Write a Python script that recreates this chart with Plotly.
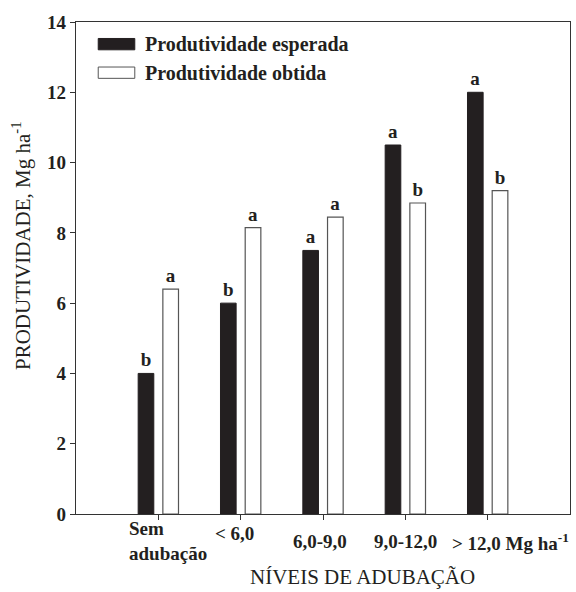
import plotly.graph_objects as go

categories = ["Sem<br>adubação", "< 6,0", "6,0-9,0", "9,0-12,0", "> 12,0 Mg ha<sup>-1</sup>"]
positions = [1, 2, 3, 4, 5]
esperada = [4.0, 6.0, 7.5, 10.5, 12.0]
obtida = [6.4, 8.15, 8.45, 8.85, 9.2]
letras_esperada = ["b", "b", "a", "a", "a"]
letras_obtida = ["a", "a", "a", "b", "b"]
series_names = ["Produtividade esperada", "Produtividade obtida"]
y_ticks = [0, 2, 4, 6, 8, 10, 12, 14]

SERIF = "Liberation Serif"
BLACK = "#231f20"

def b(s):
    return "<b>" + s + "</b>"

fig = go.Figure()
fig.add_trace(go.Bar(
    x=positions, y=esperada, width=0.19, offset=-0.245,
    marker=dict(color=BLACK, line=dict(color=BLACK, width=1)),
    text=[b(t) for t in letras_esperada], textposition="outside", cliponaxis=False,
    textfont=dict(family=SERIF, size=19, color=BLACK),
    name=series_names[0], showlegend=False,
))
fig.add_trace(go.Bar(
    x=positions, y=obtida, width=0.19, offset=0.055,
    marker=dict(color="white", line=dict(color="#555555", width=1.2)),
    text=[b(t) for t in letras_obtida], textposition="outside", cliponaxis=False,
    textfont=dict(family=SERIF, size=19, color=BLACK),
    name=series_names[1], showlegend=False,
))

# x tick labels (placed individually, as in the original)
label_xshift = [10, -6, -3, 0, 23]
label_yshift = [-27, -19, -27, -27, -28]
for p, lab, dx, dy in zip(positions, categories, label_xshift, label_yshift):
    fig.add_annotation(
        x=p, y=0, xref="x", yref="paper", text=b(lab), showarrow=False,
        xanchor="center", yanchor="middle", xshift=dx, yshift=dy,
        align="left",
        font=dict(family=SERIF, size=19, color=BLACK),
    )

# custom legend
legend_rows = [(0.955, BLACK, BLACK), (0.897, "white", "#555555")]
for (yc, fill, edge), name in zip(legend_rows, series_names):
    fig.add_shape(type="rect", xref="paper", yref="paper",
                  x0=0.045, x1=0.119, y0=yc - 0.0115, y1=yc + 0.0115,
                  fillcolor=fill, line=dict(color=edge, width=1))
    fig.add_annotation(x=0.135, y=yc, xref="paper", yref="paper", text=b(name),
                       showarrow=False, xanchor="left", yanchor="middle",
                       font=dict(family=SERIF, size=20, color=BLACK))

# axis titles
fig.add_annotation(x=0.579, y=0, xref="paper", yref="paper", yshift=-63,
                   text="NÍVEIS DE ADUBAÇÃO", showarrow=False,
                   xanchor="center", yanchor="middle",
                   font=dict(family=SERIF, size=21, color=BLACK))
fig.add_annotation(x=0, y=0.5, xref="paper", yref="paper", xshift=-55, yshift=22,
                   text="PRODUTIVIDADE, Mg ha<sup>-1</sup>", textangle=-90,
                   showarrow=False, xanchor="center", yanchor="middle",
                   font=dict(family=SERIF, size=21, color=BLACK))

fig.update_layout(
    width=576, height=592,
    margin=dict(l=76, r=6, t=22, b=78),
    paper_bgcolor="white", plot_bgcolor="white",
    barmode="overlay",
    xaxis=dict(range=[0, 6], tickvals=positions,
               showticklabels=False, ticks="outside", ticklen=5, tickcolor="#333333",
               showline=True, linecolor="#333333", linewidth=1.3, mirror=True,
               showgrid=False, zeroline=False),
    yaxis=dict(range=[0, 14], tickvals=y_ticks, ticktext=[b(str(v)) for v in y_ticks],
               ticks="outside", ticklen=5,
               tickcolor="#333333", showline=True, linecolor="#333333", linewidth=1.3,
               mirror=True, showgrid=False, zeroline=False,
               tickfont=dict(family=SERIF, size=19, color=BLACK)),
)

fig.write_html("out.html", config={"displayModeBar": False},
               post_script="document.body.style.margin='0';document.body.style.padding='0';")
